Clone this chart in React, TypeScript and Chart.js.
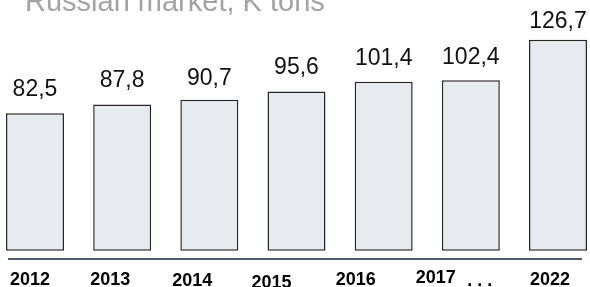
import React, { useEffect, useRef } from "react";
import { Chart, registerables } from "chart.js";

Chart.register(...registerables);

const titleText = "Russian market, K tons";
const years = ["2012", "2013", "2014", "2015", "2016", "2017", "2022"];
const values = [82.5, 87.8, 90.7, 95.6, 101.4, 102.4, 126.7];
const valueLabels = ["82,5", "87,8", "90,7", "95,6", "101,4", "102,4", "126,7"];
const gapMarker = ". . .";

const FONT = '"Liberation Sans", Arial, sans-serif';

// layout nudges for the hand-placed labels of the original slide
const labelGap = [17, 17, 15, 17, 17, 16, 12];
const yearDx = [-5, -12, -17, -25, -28, -35, -8];
const yearDy = [26, 26, 27, 29, 26, 24, 26];

const overlay = {
  id: "overlay",
  afterDraw(chart: any) {
    const { ctx, chartArea, scales } = chart;
    const xs = scales.x;
    const meta = chart.getDatasetMeta(0);
    ctx.save();

    // title (partly cut at top)
    ctx.font = `29px ${FONT}`;
    ctx.fillStyle = "#a3a3a3";
    ctx.textAlign = "left";
    ctx.textBaseline = "alphabetic";
    ctx.fillText(titleText, 25, 11);

    // value labels
    ctx.font = `23px ${FONT}`;
    ctx.fillStyle = "#111111";
    ctx.textAlign = "center";
    meta.data.forEach((bar: any, i: number) => {
      ctx.fillText(valueLabels[i], bar.x, bar.y - labelGap[i]);
    });

    // axis line
    const ay = chartArea.bottom;
    ctx.strokeStyle = "#4b5b70";
    ctx.lineWidth = 2;
    ctx.beginPath();
    ctx.moveTo(chartArea.left - 27, ay);
    ctx.lineTo(chartArea.right + 24, ay);
    ctx.stroke();

    // year labels
    ctx.font = `bold 18px ${FONT}`;
    ctx.fillStyle = "#000000";
    years.forEach((yr, i) => {
      ctx.fillText(yr, xs.getPixelForValue(i) + yearDx[i], ay + yearDy[i]);
    });
    ctx.fillText(gapMarker, xs.getPixelForValue(5) + 9, ay + 27);

    ctx.restore();
  },
};

export default function App() {
  const ref = useRef<HTMLCanvasElement | null>(null);
  useEffect(() => {
    if (!ref.current) return;
    const chart = new Chart(ref.current, {
      type: "bar",
      data: {
        labels: years,
        datasets: [
          {
            data: values,
            backgroundColor: "#e7ebf0",
            borderColor: "#262626",
            borderWidth: 1.5,
            borderSkipped: false,
            categoryPercentage: 1,
            barPercentage: 0.665,
            clip: false,
          },
        ],
      },
      options: {
        responsive: false,
        animation: false,
        devicePixelRatio: 1,
        layout: { padding: { left: 35, right: 32, top: 20, bottom: 28 } },
        plugins: {
          legend: { display: false },
          tooltip: { enabled: false },
          title: { display: false },
        },
        scales: {
          x: { display: false, offset: false },
          y: { display: false, min: -5, max: 138.54 },
        },
      },
      plugins: [overlay],
    });
    return () => chart.destroy();
  }, []);
  return (
    <div style={{ position: "absolute", left: 0, top: 0, width: 590, height: 287, background: "#fff" }}>
      <canvas ref={ref} width={590} height={287} />
    </div>
  );
}
